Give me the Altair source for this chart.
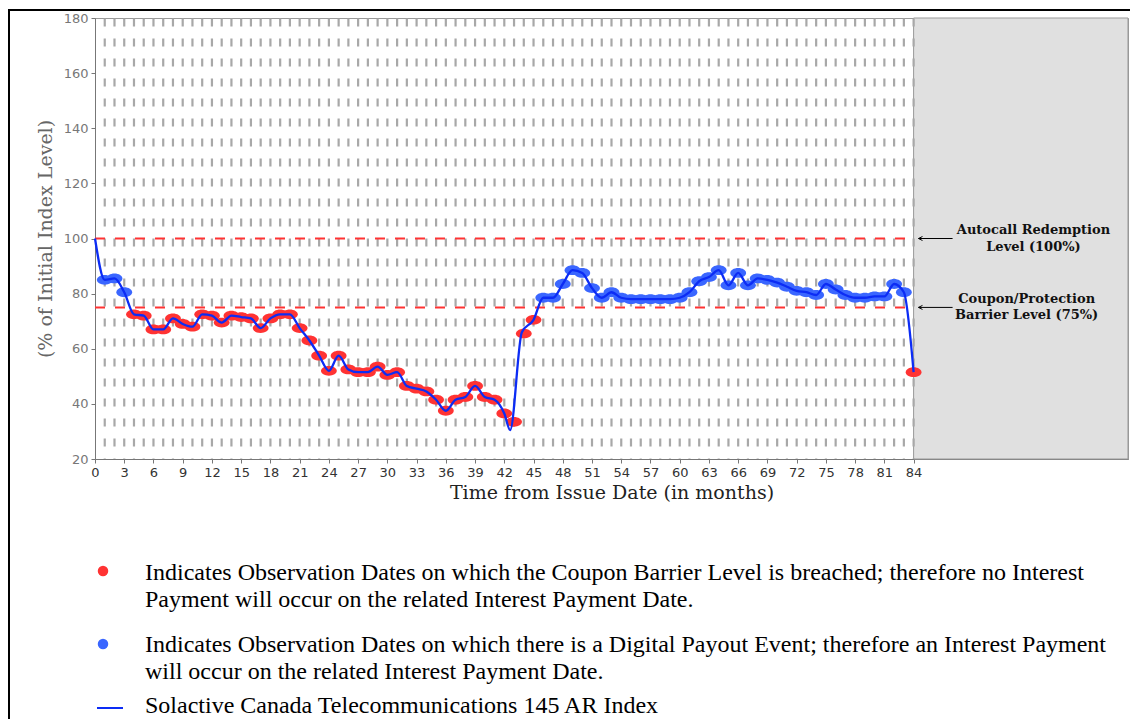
import altair as alt
import pandas as pd

# ---- data ----
obs_months = list(range(1, 85))
obs_levels = [85, 85.5, 80.5, 72.5, 72, 67, 67, 71, 69, 68,
              72.5, 72, 69.5, 72, 71.5, 71, 67.5, 71, 72.5, 72.5,
              67.5, 63, 57.5, 52, 57.5, 52.5, 51.5, 51.5, 53.5, 50.5,
              51.5, 46.5, 45.5, 44.5, 41.5, 37.5, 41.5, 42.5, 46.5, 42.5,
              41.5, 36.5, 33.5, 65.5, 70.5, 78.5, 78.5, 83.5, 88.5, 87.5,
              82, 78.5, 80.5, 78.5, 78, 78, 78, 78, 78, 78.5,
              80.5, 84.5, 86, 88.5, 83, 87.5, 83, 85.5, 85, 84,
              82.5, 81, 80.5, 79.5, 83.5, 81.5, 79.5, 78.5, 78.5, 79,
              79, 83.5, 80.5, 51.5]

line_months = [0] + list(range(1, 43)) + [42.6, 43.8] + list(range(45, 85))
line_levels = ([100] +
               [85, 85.5, 80.5, 72.5, 72, 67, 67, 71, 69, 68,
                72.5, 72, 69.5, 72, 71.5, 71, 67.5, 71, 72.5, 72.5,
                67.5, 63, 57.5, 52, 57.5, 52.5, 51.5, 51.5, 53.5, 50.5,
                51.5, 46.5, 45.5, 44.5, 41.5, 37.5, 41.5, 42.5, 46.5, 42.5,
                41.5, 36.5] +
               [30.5, 66] +
               [70.5, 78.5, 78.5, 83.5, 88.5, 87.5,
                82, 78.5, 80.5, 78.5, 78, 78, 78, 78, 78, 78.5,
                80.5, 84.5, 86, 88.5, 83, 87.5, 83, 85.5, 85, 84,
                82.5, 81, 80.5, 79.5, 83.5, 81.5, 79.5, 78.5, 78.5, 79,
                79, 83.5, 80.5, 51.5])

barrier_levels = [100, 75]
barrier_labels = [["Autocall Redemption", "Level (100%)"],
                  ["Coupon/Protection", "Barrier Level (75%)"]]
label_months = [96.3, 95.6]
coupon_barrier = 75
maturity_month = 84
x_max = 106
x_tick_values = list(range(0, 85, 3))
y_tick_values = list(range(20, 181, 20))

legend_rows = [
    ["Indicates Observation Dates on which the Coupon Barrier Level is breached; therefore no Interest",
     "Payment will occur on the related Interest Payment Date."],
    ["Indicates Observation Dates on which there is a Digital Payout Event; therefore an Interest Payment",
     "will occur on the related Interest Payment Date."],
    ["Solactive Canada Telecommunications 145 AR Index"],
]

RED = "#ff3333"
BLUE_DOT = "#3a66ff"
LINE_BLUE = "#0c2cf5"

W, H = 1033, 441

obs_df = pd.DataFrame({"month": obs_months, "level": obs_levels})
obs_df["status"] = ["breach" if v < coupon_barrier else "payout" for v in obs_levels]
line_df = pd.DataFrame({"month": line_months, "level": line_levels})
grid_df = pd.DataFrame({"month": obs_months})
bar_df = pd.DataFrame({"start": [0] * len(barrier_levels),
                       "end": [maturity_month] * len(barrier_levels),
                       "level": barrier_levels})
shade_df = pd.DataFrame({"start": [maturity_month], "end": [x_max],
                         "lo": [y_tick_values[0]], "hi": [y_tick_values[-1]]})
ann_df = pd.DataFrame({"month": label_months, "level": barrier_levels,
                       "label": barrier_labels})
arrow_df = pd.DataFrame({"start": [maturity_month + 0.5] * 2, "end": [88] * 2,
                         "level": barrier_levels})

xscale = alt.Scale(domain=[0, x_max], nice=False, zero=False)
yscale = alt.Scale(domain=[y_tick_values[0], y_tick_values[-1]], nice=False, zero=False)
xaxis = alt.Axis(values=x_tick_values, title="Time from Issue Date (in months)",
                 labelFlush=False, grid=False)
yaxis = alt.Axis(values=y_tick_values, title="(% of Initial Index Level)", grid=False)


def X(field):
    return alt.X(field, type="quantitative", scale=xscale, axis=xaxis)


def Y(field):
    return alt.Y(field, type="quantitative", scale=yscale, axis=yaxis)


shade = alt.Chart(shade_df).mark_rect(fill="#e0e0e0", stroke="#999", strokeWidth=1).encode(
    x=X("start"), x2="end", y=Y("lo"), y2="hi")

grid = alt.Chart(grid_df).mark_rule(color="#a8a8a8", strokeWidth=2.2, strokeDash=[8, 12]).encode(
    x=X("month"), y=alt.value(0.5), y2=alt.value(H))

barriers = alt.Chart(bar_df).mark_rule(color=RED, strokeWidth=2, strokeDash=[10, 10]).encode(
    x=X("start"), x2="end", y=Y("level"))

ellipse = ("M-1,0 C-1,-0.34 -0.5523,-0.62 0,-0.62 C0.5523,-0.62 1,-0.34 1,0 "
           "C1,0.34 0.5523,0.62 0,0.62 C-0.5523,0.62 -1,0.34 -1,0 Z")
dots = alt.Chart(obs_df).mark_point(shape=ellipse, filled=True, size=250, opacity=1).encode(
    x=X("month"), y=Y("level"),
    color=alt.Color("status:N", scale=alt.Scale(domain=["breach", "payout"], range=[RED, BLUE_DOT]),
                    legend=None))

line = alt.Chart(line_df).mark_line(color=LINE_BLUE, strokeWidth=2.3, interpolate="monotone").encode(
    x=X("month"), y=Y("level"))

arrows = alt.Chart(arrow_df).mark_rule(color="#000", strokeWidth=1).encode(
    x=X("start"), x2="end", y=Y("level"))
heads = alt.Chart(arrow_df).mark_point(shape="M0,0 L1,-0.5 M0,0 L1,0.5", filled=False,
                                       stroke="#000", strokeWidth=1, size=64, opacity=1).encode(
    x=X("start"), y=Y("level"))
ann = alt.Chart(ann_df).mark_text(font="DejaVu Serif", fontWeight="bold", fontSize=13,
                                  align="center", baseline="middle", lineHeight=16.5,
                                  dy=-8.5, color="#111").encode(
    x=X("month"), y=Y("level"), text="label")

layers = [shade, grid, barriers, dots, line, arrows, heads, ann]

# ---- legend below the chart (pixel positions relative to plot area) ----
text_x = 50
block_tops = [555, 627, 688]
line_gap = 27
legend_font = "Liberation Serif"
for rows, top in zip(legend_rows, block_tops):
    for i, txt in enumerate(rows):
        layers.append(alt.Chart(pd.DataFrame({"t": [txt]})).mark_text(
            font=legend_font, fontSize=24, align="left", baseline="middle", color="#000").encode(
            x=alt.value(text_x), y=alt.value(top + i * line_gap), text="t:N"))

sym_df = pd.DataFrame({"k": [0]})
layers.append(alt.Chart(sym_df).mark_point(shape="circle", filled=True, size=110, color=RED, opacity=1)
              .encode(x=alt.value(8), y=alt.value(block_tops[0] - 2)))
layers.append(alt.Chart(sym_df).mark_point(shape="circle", filled=True, size=110, color=BLUE_DOT, opacity=1)
              .encode(x=alt.value(8), y=alt.value(block_tops[1] - 1)))
layers.append(alt.Chart(sym_df).mark_rule(color=LINE_BLUE, strokeWidth=2)
              .encode(x=alt.value(2), x2=alt.value(28), y=alt.value(block_tops[2] + 2)))

# outer frame
layers.append(alt.Chart(sym_df).mark_rule(color="#000", strokeWidth=2)
              .encode(x=alt.value(-86), y=alt.value(-9), y2=alt.value(H + 300)))
layers.append(alt.Chart(sym_df).mark_rule(color="#000", strokeWidth=2)
              .encode(x=alt.value(-87), x2=alt.value(W + 20), y=alt.value(-8)))

chart = alt.layer(*layers).properties(
    width=W, height=H,
    autosize=alt.AutoSizeParams(type="none"),
    padding={"left": 87, "top": 10, "right": 2, "bottom": 260},
).configure_view(stroke="#999", strokeWidth=1).configure_axis(
    labelFont="DejaVu Sans", labelFontSize=13, tickSize=4, tickColor="#777",
    domainColor="#777", titleFont="DejaVu Serif", titleFontSize=19, titleFontWeight="normal",
).configure_axisY(
    labelColor="#777", titleColor="#666", titlePadding=8, labelPadding=3,
).configure_axisX(
    labelColor="#333", titleColor="#222", titlePadding=4, labelPadding=3,
)

chart.save("out.html", embed_options={"renderer": "svg", "actions": False})
